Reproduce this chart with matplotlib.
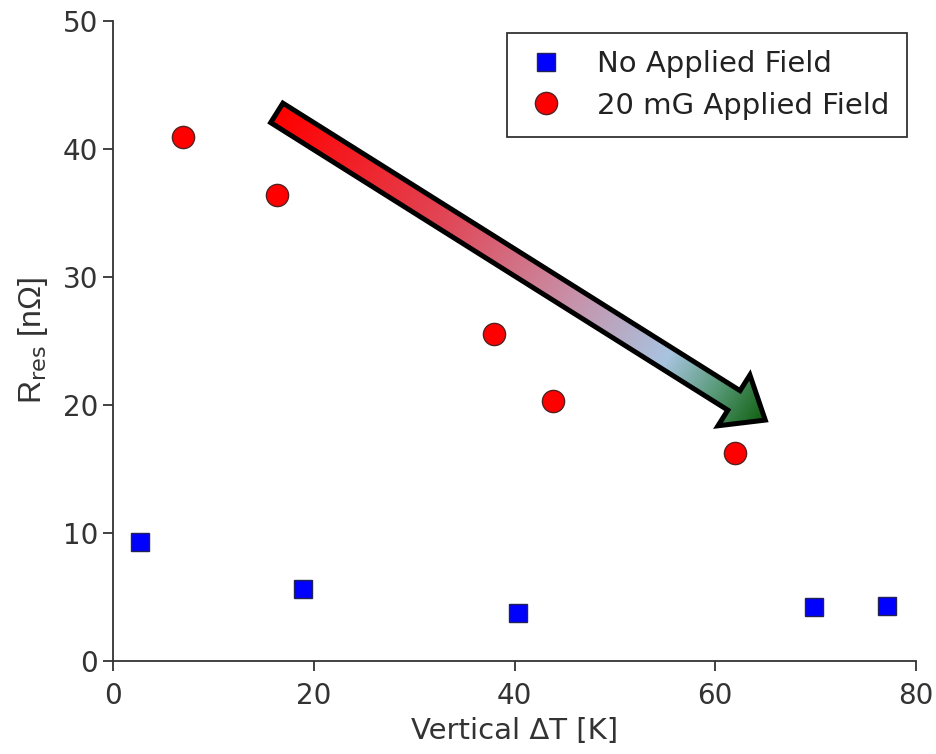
import numpy as np
import matplotlib
matplotlib.use('Agg')
import matplotlib.pyplot as plt
from matplotlib.patches import Polygon
from matplotlib.colors import LinearSegmentedColormap

# data
dt_nofield = [2.7, 18.9, 40.3, 69.9, 77.1]
r_nofield = [9.3, 5.6, 3.7, 4.2, 4.3]
dt_field = [7.0, 16.3, 38.0, 43.8, 62.0]
r_field = [40.9, 36.4, 25.5, 20.3, 16.2]

xticks = [0, 20, 40, 60, 80]
yticks = [0, 10, 20, 30, 40, 50]

plt.rcParams['font.family'] = ['DejaVu Sans']
txt = '#333333'

fig = plt.figure(figsize=(9.37, 7.54), dpi=100)
ax = fig.add_axes([0.1209, 0.1237, 0.8564, 0.8488])

ax.plot(dt_nofield, r_nofield, 's', ms=13, mfc='#0000ff', mec='#222255', mew=1,
        label='No Applied Field', zorder=5)
ax.plot(dt_field, r_field, 'o', ms=16, mfc='#ff0000', mec='#552222', mew=1,
        label='20 mG Applied Field', zorder=5)

ax.set_xlim(0, 80)
ax.set_ylim(0, 50)
ax.set_xticks(xticks)
ax.set_yticks(yticks)
for s in ['top', 'right']:
    ax.spines[s].set_visible(False)
for s in ['left', 'bottom']:
    ax.spines[s].set_color('#333333')
    ax.spines[s].set_linewidth(1.3)
ax.tick_params(direction='out', length=7, width=1.3, color='#333333',
               labelsize=20, labelcolor=txt, pad=4)
ax.tick_params(axis='x', pad=8)

ax.set_xlabel('Vertical ΔT [K]', fontsize=21, color=txt, labelpad=5)
ax.set_ylabel(r'R$_{\mathrm{res}}$ [nΩ]', fontsize=23, color=txt,
              family='Liberation Sans', labelpad=9)

leg = ax.legend(loc='upper right', bbox_to_anchor=(0.989, 0.981), borderaxespad=0,
                fancybox=False, edgecolor='black', fontsize=21, handletextpad=1.0,
                borderpad=0.6, labelspacing=0.45, handlelength=1.5)
leg.get_frame().set_linewidth(1.3)
for t in leg.get_texts():
    t.set_color('#222222')

# gradient arrow, built in pixel space so it keeps its shape
fig.canvas.draw()
p0 = ax.transData.transform((16.3, 42.8))
p1 = ax.transData.transform((65.0, 18.8))
d = p1 - p0
L = np.hypot(*d)
u = d / L
n = np.array([-u[1], u[0]])
hw, headw, headl = 11.5, 30, 37
base = p1 - u * headl
pts = [p0 + n * hw, base + n * hw, base + n * headw, p1,
       base - n * headw, base - n * hw, p0 - n * hw]
pts_data = ax.transData.inverted().transform(np.array(pts))
arrow = Polygon(pts_data, closed=True, facecolor='none', edgecolor='black',
                lw=3.6, joinstyle='miter', zorder=4)
ax.add_patch(arrow)

cmap = LinearSegmentedColormap.from_list('arr', [
    (0.0, '#ff0000'), (0.35, '#e04858'), (0.6, '#c890a8'),
    (0.8, '#a8c4e0'), (0.9, '#5a9a7a'), (1.0, '#106010')])
xmin, ymin = pts_data.min(axis=0)
xmax, ymax = pts_data.max(axis=0)
gx, gy = np.meshgrid(np.linspace(xmin, xmax, 400), np.linspace(ymin, ymax, 400))
disp = ax.transData.transform(np.column_stack([gx.ravel(), gy.ravel()]))
tt = ((disp - p0) @ u / L).reshape(gx.shape)
tt = np.clip(tt, 0, 1)
im = ax.imshow(tt, cmap=cmap, extent=[xmin, xmax, ymin, ymax], origin='lower',
               aspect='auto', vmin=0, vmax=1, zorder=3, interpolation='bilinear')
im.set_clip_path(arrow)
ax.set_xlim(0, 80)
ax.set_ylim(0, 50)

fig.savefig('out.png', dpi=100)
